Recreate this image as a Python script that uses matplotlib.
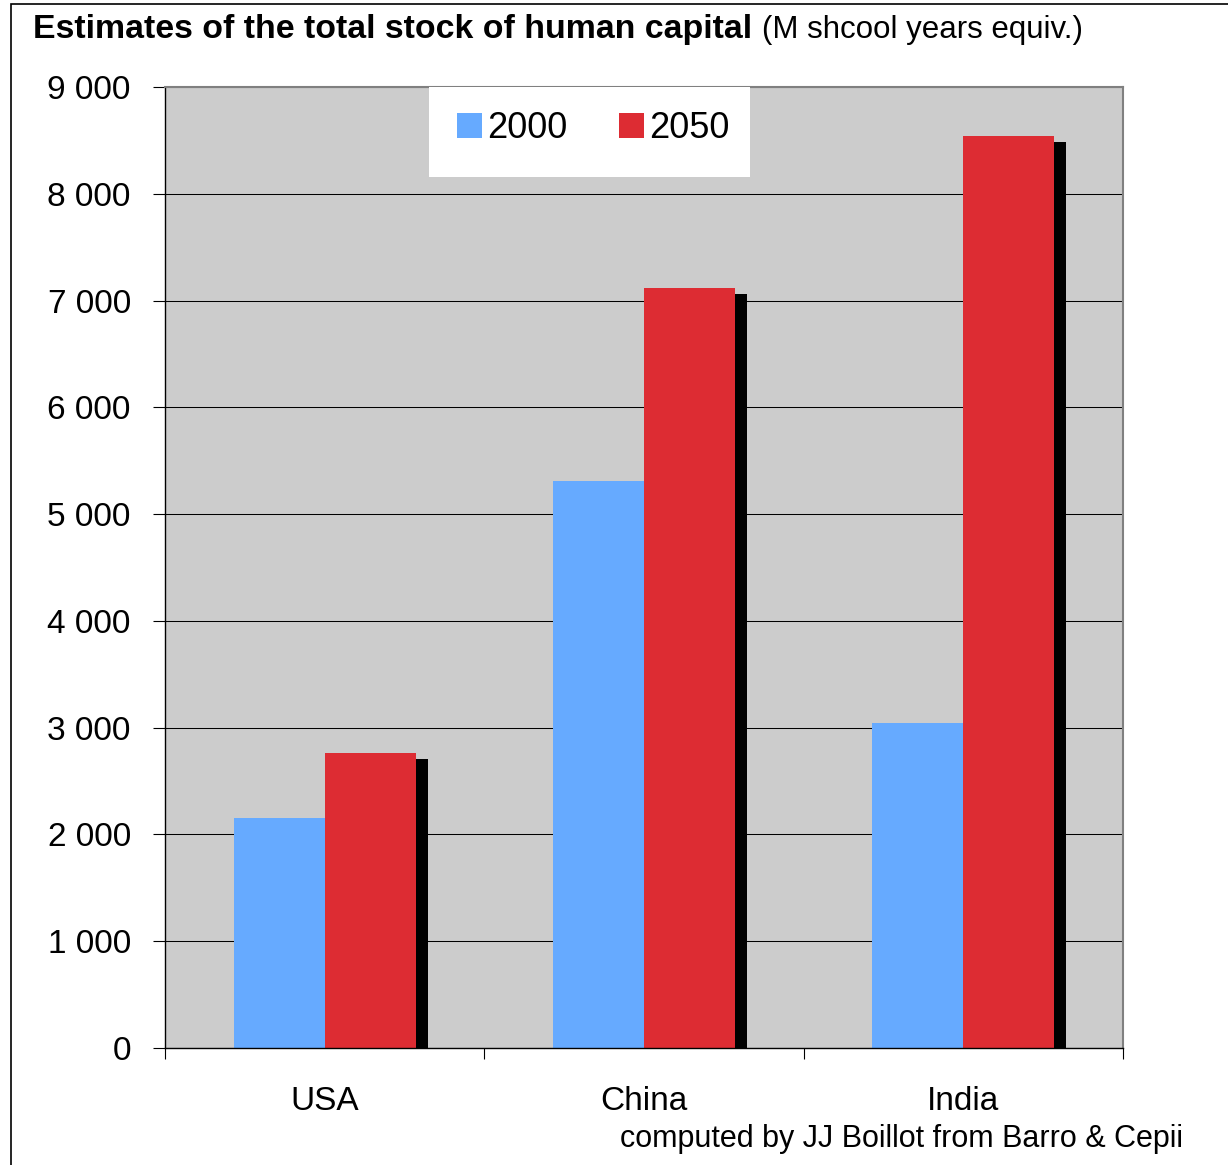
import numpy as np
import matplotlib
matplotlib.use("Agg")
import matplotlib.pyplot as plt
import matplotlib.patheffects as pe
from matplotlib.patches import Rectangle, Patch

plt.rcParams['font.family'] = ['Liberation Sans', 'DejaVu Sans']

# Stock of human capital, millions of school years equivalent
countries = ["USA", "China", "India"]
years = ["2000", "2050"]
stock_2000 = [2150, 5310, 3040]
stock_2050 = [2760, 7120, 8540]
y_ticks = [0, 1000, 2000, 3000, 4000, 5000, 6000, 7000, 8000, 9000]

blue = "#66aaff"
red = "#dd2c33"

fig = plt.figure(figsize=(12.28, 11.65), dpi=100)
ax = fig.add_axes([165 / 1228, 117 / 1165, 958 / 1228, 961 / 1165])
ax.set_facecolor("#cccccc")

x = np.arange(len(countries))
w = 0.285
ax.bar(x - w / 2, stock_2000, w, color=blue, zorder=2)
shadow = [pe.SimplePatchShadow(offset=(8.64, -4.32), shadow_rgbFace="black", alpha=1.0),
          pe.Normal()]
bars = ax.bar(x + w / 2, stock_2050, w, color=red, zorder=2.2)
for b in bars:
    b.set_path_effects(shadow)

ax.set_xlim(-0.5, 2.5)
ax.set_ylim(0, 9000)
ax.set_yticks(y_ticks)
ax.set_yticklabels([f"{v:,}".replace(",", " ") for v in y_ticks])
ax.yaxis.grid(True, color="black", linewidth=0.75)
ax.set_axisbelow(True)

# category boundaries carry the tick marks, names sit in between
ax.set_xticks([-0.5, 0.5, 1.5, 2.5])
ax.set_xticklabels([])
ax.set_xticks(x, minor=True)
ax.set_xticklabels(countries, minor=True)
ax.tick_params(axis="x", which="minor", length=0, pad=27, labelsize=24)
ax.tick_params(axis="x", which="major", direction="out", length=8, width=0.8)
ax.tick_params(axis="y", direction="out", length=8.6, width=0.8, pad=16, labelsize=24)

for side in ["top", "right"]:
    ax.spines[side].set_color("#808080")
    ax.spines[side].set_linewidth(1.5)
for side in ["left", "bottom"]:
    ax.spines[side].set_color("black")
    ax.spines[side].set_linewidth(1.0)

# white panel behind the legend, covering the top border
ax.add_patch(Rectangle((0.2756, 0.9063), 0.335, 0.0937, transform=ax.transAxes,
                       facecolor="white", edgecolor="none", zorder=3, clip_on=False))
handles = [Patch(facecolor=blue, label=years[0]), Patch(facecolor=red, label=years[1])]
leg = ax.legend(handles=handles, loc="center", bbox_to_anchor=(0.4473, 0.9568), ncol=2,
                frameon=False, fontsize=26, handlelength=0.69, handleheight=0.72,
                handletextpad=0.15, columnspacing=1.42, borderpad=0)
leg.set_zorder(4)

fig.text(33 / 1228, 1 - 38 / 1165, "Estimates of the total stock of human capital",
         fontsize=24.4, fontweight="bold", ha="left", va="baseline")
fig.text(762 / 1228, 1 - 38 / 1165, "(M shcool years equiv.)",
         fontsize=22.5, ha="left", va="baseline")
fig.text(1183 / 1228, 1 - 1147 / 1165, "computed by JJ Boillot from Barro & Cepii",
         fontsize=22, ha="right", va="baseline")

# outer frame
fig.patches.append(Rectangle((11 / 1228, -0.01), 1.1, 1 - 4 / 1165 + 0.01,
                             transform=fig.transFigure, facecolor="none",
                             edgecolor="black", linewidth=1.2))

fig.savefig("out.png", dpi=100)
